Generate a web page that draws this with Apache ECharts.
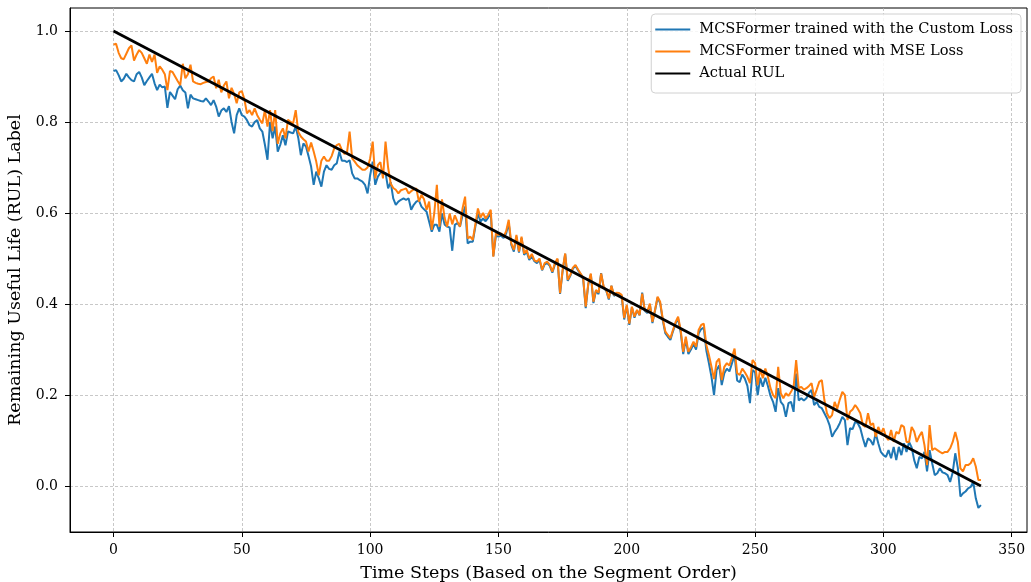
<!DOCTYPE html>
<html>
<head>
<meta charset="utf-8">
<script src="https://cdn.jsdelivr.net/npm/echarts@6/dist/echarts.min.js"></script>
<style>
  html, body { margin: 0; padding: 0; background: #fff; }
  #chart { width: 1031px; height: 582px; }
</style>
</head>
<body>
<div id="chart"></div>
<script>
// tick positions
const xTicks = [0, 50, 100, 150, 200, 250, 300, 350]
const yTicks = [0, 0.2, 0.4, 0.6, 0.8, 1.0]

// predictions, one value per time step (0..338)
const customLoss = [
  0.912, 0.914, 0.903, 0.889, 0.895, 0.906, 0.898, 0.892, 0.889, 0.905,
  0.910, 0.898, 0.881, 0.890, 0.898, 0.906, 0.885, 0.870, 0.882, 0.876,
  0.878, 0.831, 0.866, 0.858, 0.850, 0.872, 0.880, 0.870, 0.865, 0.830,
  0.860, 0.852, 0.850, 0.848, 0.846, 0.845, 0.852, 0.845, 0.837, 0.848,
  0.834, 0.812, 0.825, 0.830, 0.822, 0.835, 0.800, 0.775, 0.815, 0.830,
  0.815, 0.812, 0.804, 0.793, 0.790, 0.800, 0.804, 0.786, 0.779, 0.750,
  0.717, 0.800, 0.764, 0.790, 0.735, 0.750, 0.771, 0.749, 0.779, 0.777,
  0.775, 0.790, 0.765, 0.727, 0.753, 0.746, 0.725, 0.702, 0.662, 0.691,
  0.676, 0.658, 0.691, 0.705, 0.697, 0.695, 0.705, 0.709, 0.735, 0.715,
  0.715, 0.712, 0.716, 0.687, 0.676, 0.676, 0.672, 0.669, 0.662, 0.643,
  0.683, 0.713, 0.662, 0.680, 0.688, 0.688, 0.688, 0.654, 0.668, 0.632,
  0.618, 0.625, 0.629, 0.632, 0.629, 0.632, 0.607, 0.618, 0.625, 0.628,
  0.614, 0.608, 0.603, 0.581, 0.559, 0.574, 0.574, 0.559, 0.599, 0.575,
  0.570, 0.568, 0.517, 0.574, 0.578, 0.570, 0.595, 0.614, 0.533, 0.537,
  0.537, 0.570, 0.599, 0.581, 0.588, 0.582, 0.590, 0.600, 0.505, 0.550,
  0.548, 0.550, 0.545, 0.555, 0.578, 0.530, 0.515, 0.548, 0.513, 0.545,
  0.508, 0.515, 0.497, 0.505, 0.494, 0.490, 0.497, 0.474, 0.487, 0.490,
  0.484, 0.469, 0.487, 0.498, 0.422, 0.472, 0.510, 0.451, 0.462, 0.478,
  0.484, 0.474, 0.466, 0.455, 0.391, 0.443, 0.465, 0.402, 0.429, 0.422,
  0.468, 0.436, 0.429, 0.410, 0.440, 0.418, 0.422, 0.421, 0.418, 0.366,
  0.396, 0.354, 0.393, 0.370, 0.386, 0.375, 0.425, 0.385, 0.380, 0.399,
  0.358, 0.385, 0.414, 0.402, 0.365, 0.336, 0.328, 0.321, 0.340, 0.357,
  0.368, 0.338, 0.290, 0.323, 0.290, 0.300, 0.312, 0.300, 0.335, 0.345,
  0.348, 0.298, 0.270, 0.240, 0.200, 0.255, 0.265, 0.222, 0.248, 0.258,
  0.252, 0.270, 0.288, 0.232, 0.228, 0.245, 0.236, 0.220, 0.182, 0.255,
  0.250, 0.200, 0.238, 0.218, 0.238, 0.220, 0.198, 0.185, 0.163, 0.215,
  0.185, 0.178, 0.152, 0.182, 0.185, 0.163, 0.247, 0.188, 0.193, 0.188,
  0.193, 0.205, 0.211, 0.178, 0.185, 0.174, 0.171, 0.160, 0.149, 0.134,
  0.108, 0.119, 0.127, 0.138, 0.152, 0.145, 0.090, 0.127, 0.125, 0.141,
  0.138, 0.127, 0.105, 0.086, 0.105, 0.100, 0.090, 0.116, 0.094, 0.075,
  0.068, 0.064, 0.079, 0.061, 0.086, 0.057, 0.086, 0.068, 0.094, 0.075,
  0.097, 0.085, 0.057, 0.039, 0.064, 0.061, 0.075, 0.032, 0.079, 0.050,
  0.024, 0.028, 0.039, 0.030, 0.028, 0.024, 0.009, 0.030, 0.072, 0.040,
  -0.023, -0.016, -0.012, -0.005, -0.002, 0.009, -0.027, -0.048, -0.042
]
const mseLoss = [
  0.970, 0.972, 0.952, 0.940, 0.938, 0.950, 0.962, 0.968, 0.935, 0.948,
  0.958, 0.952, 0.940, 0.928, 0.948, 0.932, 0.948, 0.908, 0.922, 0.915,
  0.905, 0.870, 0.912, 0.910, 0.900, 0.890, 0.881, 0.928, 0.896, 0.905,
  0.926, 0.889, 0.886, 0.884, 0.883, 0.886, 0.888, 0.889, 0.896, 0.900,
  0.874, 0.893, 0.865, 0.880, 0.889, 0.852, 0.875, 0.862, 0.841, 0.865,
  0.868, 0.850, 0.819, 0.826, 0.815, 0.830, 0.815, 0.805, 0.797, 0.826,
  0.790, 0.826, 0.780, 0.826, 0.752, 0.775, 0.786, 0.764, 0.805, 0.800,
  0.797, 0.826, 0.778, 0.768, 0.762, 0.757, 0.735, 0.755, 0.735, 0.713,
  0.683, 0.715, 0.724, 0.715, 0.715, 0.725, 0.742, 0.749, 0.752, 0.738,
  0.730, 0.733, 0.779, 0.720, 0.713, 0.705, 0.700, 0.695, 0.695, 0.700,
  0.720, 0.757, 0.676, 0.705, 0.712, 0.676, 0.757, 0.700, 0.665, 0.655,
  0.651, 0.643, 0.650, 0.652, 0.654, 0.643, 0.648, 0.652, 0.654, 0.625,
  0.640, 0.630, 0.607, 0.625, 0.563, 0.600, 0.662, 0.570, 0.630, 0.590,
  0.570, 0.599, 0.575, 0.595, 0.581, 0.570, 0.610, 0.636, 0.544, 0.548,
  0.541, 0.575, 0.610, 0.590, 0.600, 0.588, 0.596, 0.607, 0.504, 0.555,
  0.552, 0.555, 0.548, 0.560, 0.585, 0.533, 0.519, 0.552, 0.515, 0.548,
  0.511, 0.519, 0.500, 0.510, 0.496, 0.493, 0.500, 0.475, 0.490, 0.493,
  0.486, 0.471, 0.490, 0.500, 0.424, 0.475, 0.511, 0.453, 0.464, 0.480,
  0.486, 0.476, 0.467, 0.458, 0.394, 0.445, 0.467, 0.405, 0.431, 0.425,
  0.467, 0.438, 0.431, 0.412, 0.440, 0.420, 0.425, 0.424, 0.420, 0.369,
  0.398, 0.357, 0.394, 0.372, 0.387, 0.376, 0.423, 0.387, 0.383, 0.401,
  0.361, 0.387, 0.416, 0.405, 0.368, 0.340, 0.332, 0.325, 0.343, 0.360,
  0.372, 0.343, 0.295, 0.328, 0.295, 0.305, 0.317, 0.306, 0.343, 0.354,
  0.357, 0.310, 0.288, 0.262, 0.235, 0.273, 0.280, 0.233, 0.262, 0.270,
  0.265, 0.283, 0.302, 0.248, 0.244, 0.258, 0.250, 0.240, 0.226, 0.277,
  0.270, 0.222, 0.258, 0.237, 0.258, 0.240, 0.215, 0.200, 0.193, 0.262,
  0.204, 0.193, 0.204, 0.198, 0.207, 0.218, 0.277, 0.215, 0.218, 0.212,
  0.215, 0.220, 0.226, 0.196, 0.212, 0.229, 0.233, 0.189, 0.160, 0.149,
  0.156, 0.185, 0.170, 0.190, 0.207, 0.200, 0.145, 0.163, 0.168, 0.178,
  0.170, 0.160, 0.134, 0.130, 0.160, 0.134, 0.138, 0.108, 0.130, 0.115,
  0.127, 0.108, 0.101, 0.123, 0.097, 0.119, 0.115, 0.134, 0.130, 0.097,
  0.097, 0.130, 0.120, 0.097, 0.110, 0.119, 0.090, 0.046, 0.134, 0.079,
  0.083, 0.079, 0.075, 0.072, 0.075, 0.075, 0.083, 0.097, 0.119, 0.097,
  0.039, 0.032, 0.046, 0.046, 0.050, 0.061, 0.043, 0.013, 0.013
]

// actual RUL goes straight from 1 to 0
const actualSteps = [0, 338]
const actualRul = [1.0, 0.0]

const FONT = 'DejaVu Serif'

const chart = echarts.init(document.getElementById('chart'))

const gridLine = {
  show: true,
  lineStyle: { color: '#b0b0b0', width: 0.7, type: [3, 2] },
}

chart.setOption({
  animation: false,
  textStyle: { fontFamily: FONT },
  grid: {
    left: 70, right: 4, top: 8, bottom: 50,
    outerBoundsMode: 'none',
    show: true, borderColor: '#000', borderWidth: 1,
  },
  legend: {
    orient: 'vertical',
    right: 10, top: 14,
    itemWidth: 35, itemHeight: 2, itemGap: 7,
    icon: 'rect',
    padding: [8, 8, 12, 4],
    borderColor: '#d0d0d0', borderWidth: 1, borderRadius: 4,
    backgroundColor: 'rgba(255,255,255,0.85)',
    textStyle: { fontFamily: FONT, fontSize: 14.6, color: '#000', padding: [0, 0, 0, 4] },
    data: [
      'MCSFormer trained with the Custom Loss',
      'MCSFormer trained with MSE Loss',
      'Actual RUL',
    ],
  },
  xAxis: {
    type: 'value',
    min: -16.95, max: 355.95,
    name: 'Time Steps (Based on the Segment Order)',
    nameLocation: 'middle', nameGap: 32,
    nameTextStyle: { fontFamily: FONT, fontSize: 17.5, color: '#000' },
    axisLine: { show: true, onZero: false, lineStyle: { color: '#000' } },
    axisTick: { show: true, length: 5, customValues: xTicks, lineStyle: { color: '#000' } },
    axisLabel: { customValues: xTicks, margin: 11, fontFamily: FONT, fontSize: 14, color: '#000' },
    splitLine: Object.assign({ customValues: xTicks }, gridLine),
  },
  yAxis: {
    type: 'value',
    min: -0.101, max: 1.0505,
    name: 'Remaining Useful Life (RUL) Label',
    nameLocation: 'middle', nameGap: 41,
    nameTextStyle: { fontFamily: FONT, fontSize: 17.5, color: '#000' },
    axisLine: { show: true, onZero: false, lineStyle: { color: '#000' } },
    axisTick: { show: true, length: 5, customValues: yTicks, lineStyle: { color: '#000' } },
    axisLabel: {
      customValues: yTicks, margin: 12, fontFamily: FONT, fontSize: 14, color: '#000',
      formatter: (v) => v.toFixed(1),
    },
    splitLine: Object.assign({ customValues: yTicks }, gridLine),
  },
  series: [
    {
      name: 'MCSFormer trained with the Custom Loss',
      type: 'line',
      showSymbol: false,
      data: customLoss.map((v, i) => [i, v]),
      lineStyle: { color: '#1f77b4', width: 2 },
      itemStyle: { color: '#1f77b4' },
    },
    {
      name: 'MCSFormer trained with MSE Loss',
      type: 'line',
      showSymbol: false,
      data: mseLoss.map((v, i) => [i, v]),
      lineStyle: { color: '#ff7f0e', width: 2 },
      itemStyle: { color: '#ff7f0e' },
    },
    {
      name: 'Actual RUL',
      type: 'line',
      showSymbol: false,
      data: actualSteps.map((s, i) => [s, actualRul[i]]),
      lineStyle: { color: '#000', width: 2.8 },
      itemStyle: { color: '#000' },
    },
  ],
})
</script>
</body>
</html>
